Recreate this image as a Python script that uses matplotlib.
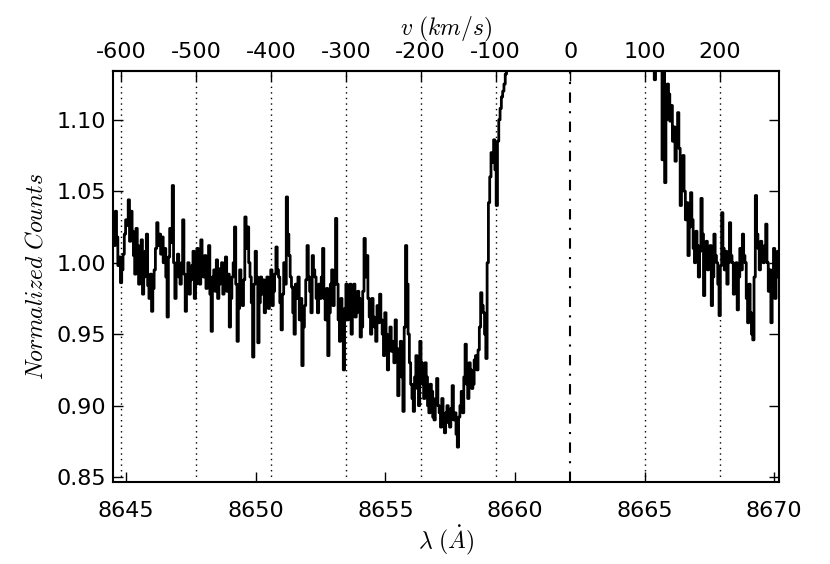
import numpy as np
import matplotlib
matplotlib.use("Agg")
import matplotlib.pyplot as plt

plt.rcParams['font.family'] = ['DejaVu Sans']
plt.rcParams['font.size'] = 16
plt.rcParams['mathtext.fontset'] = 'cm'
plt.rcParams['xtick.direction'] = 'in'
plt.rcParams['ytick.direction'] = 'in'
plt.rcParams['axes.linewidth'] = 1.5

# Ca II rest wavelength and speed of light
lam0 = 8662.14
c_kms = 299792.458

# spectrum: regular 0.05 A pixels starting at 8644.5 A
wave_start = 8644.5
wave_step = 0.05

flux_blue = [
    1.028, 1.012, 1.036, 1.018, 0.998, 1.004, 0.986, 0.995, 1.006, 1.020,
    1.030, 1.026, 1.044, 1.015, 1.036, 1.022, 1.005, 0.992, 1.024, 1.012,
    0.985, 1.000, 1.016, 0.978, 0.990, 1.008, 1.020, 0.984, 0.975, 0.992,
    0.966, 0.982, 0.995, 1.010, 1.028, 1.012, 1.020, 1.006, 1.018, 1.000,
    1.010, 0.990, 0.962, 1.004, 1.024, 1.014, 1.054, 1.000, 0.975, 0.994,
    1.006, 0.990, 0.985, 1.000, 1.030, 0.992, 0.966, 0.985, 1.000, 0.978,
    0.988, 0.998, 1.008, 0.975, 0.985, 1.010, 1.003, 0.985, 1.016, 1.000,
    0.990, 1.005, 0.982, 0.994, 1.012, 0.978, 0.952, 0.990, 0.995, 0.980,
    1.002, 0.975, 0.985, 0.996, 1.000, 0.978, 0.990, 1.004, 0.980, 0.992,
    0.955, 0.975, 0.990, 1.000, 1.025, 0.985, 0.945, 0.968, 0.995, 0.982,
    0.970, 0.988, 1.032, 1.010, 1.025, 1.000, 0.990, 0.972, 0.934, 0.985,
    1.008, 0.990, 0.944, 0.972, 0.990, 0.978, 0.988, 0.965, 0.975, 0.990,
    0.968, 0.982, 0.995, 0.970, 0.980, 0.992, 1.011, 0.995, 0.990, 0.972,
    0.953, 0.978, 1.000, 0.985, 1.046, 1.020, 1.005, 0.990, 0.983, 0.965,
    0.950, 0.985, 0.975, 0.990, 0.960, 0.975, 0.928, 0.955, 0.970, 0.988,
    1.012, 0.990, 0.980, 0.965, 1.005, 0.995, 0.990, 0.975, 0.965, 0.985,
    0.975, 0.990, 1.010, 0.975, 0.960, 0.982, 0.935, 0.965, 0.985, 0.995,
    0.970, 0.985, 1.031, 0.985, 0.960, 0.945, 0.975, 0.960, 0.925, 0.968,
    0.985, 0.960, 0.972, 0.985, 0.950, 0.970, 0.985, 0.962, 0.965, 0.980,
    0.975, 0.948, 0.955, 0.980, 1.017, 0.990, 1.005, 0.975, 0.962, 0.950,
    0.975, 0.962, 0.955, 0.945, 0.970, 0.958, 0.978, 0.960, 0.950, 0.935,
    0.965, 0.950, 0.925, 0.948, 0.955, 0.938, 0.945, 0.930, 0.960, 0.940,
    0.907, 0.935, 0.945, 0.920, 0.896, 0.955, 1.012, 0.985, 0.950, 0.930,
    0.915, 0.905, 0.896, 0.920, 0.935, 0.912, 0.900, 0.945, 0.930, 0.915,
    0.905, 0.930, 0.920, 0.900, 0.895, 0.915, 0.910, 0.892, 0.890, 0.905,
    0.919, 0.900, 0.895, 0.885, 0.905, 0.893, 0.881, 0.895, 0.900, 0.888,
    0.885, 0.898, 0.914, 0.890, 0.895, 0.880, 0.871, 0.892, 0.900, 0.910,
    0.895, 0.920, 0.943, 0.915, 0.905, 0.930, 0.925, 0.912, 0.915, 0.932,
    0.935, 0.925, 0.939, 0.955, 0.979, 0.970, 0.965, 0.950, 0.933, 1.000,
    1.042, 1.060, 1.077, 1.070, 1.086, 1.065, 1.040, 1.085, 1.100, 1.108,
    1.116, 1.120, 1.125, 1.132,
]
# line core, above the plotted range
flux_core = [
    1.14, 1.15, 1.17, 1.19, 1.21, 1.24, 1.26, 1.29, 1.32, 1.35,
    1.38, 1.41, 1.44, 1.47, 1.50, 1.53, 1.56, 1.59, 1.62, 1.64,
    1.67, 1.69, 1.71, 1.73, 1.75, 1.76, 1.77, 1.78, 1.79, 1.79,
    1.79, 1.78, 1.77, 1.75, 1.73, 1.70, 1.67, 1.63, 1.59, 1.55,
    1.51, 1.47, 1.44, 1.40, 1.37, 1.35, 1.33, 1.32, 1.31, 1.31,
    1.31, 1.32, 1.33, 1.35, 1.37, 1.40, 1.43, 1.46, 1.50, 1.53,
    1.57, 1.60, 1.63, 1.66, 1.69, 1.72, 1.75, 1.77, 1.79, 1.81,
    1.82, 1.83, 1.84, 1.84, 1.84, 1.83, 1.82, 1.80, 1.78, 1.76,
    1.74, 1.71, 1.68, 1.65, 1.62, 1.58, 1.55, 1.51, 1.48, 1.44,
    1.41, 1.38, 1.36, 1.33, 1.31, 1.29, 1.28, 1.26, 1.25, 1.23,
    1.22, 1.21, 1.20, 1.19, 1.18, 1.17, 1.165, 1.16, 1.155, 1.15,
    1.148, 1.145, 1.142, 1.14,
]
flux_red = [
    1.128, 1.145, 1.150, 1.165, 1.160, 1.140, 1.072, 1.150, 1.056, 1.100,
    1.125, 1.118, 1.099, 1.110, 1.085, 1.095, 1.071, 1.088, 1.105, 1.080,
    1.040, 1.062, 1.075, 1.050, 1.030, 1.042, 1.005, 1.025, 1.049, 1.030,
    1.010, 1.000, 1.022, 1.012, 0.990, 1.008, 1.045, 1.020, 0.977, 1.000,
    1.015, 0.995, 1.000, 1.012, 0.970, 0.990, 1.020, 1.005, 1.000, 0.985,
    0.963, 0.998, 1.035, 1.010, 0.995, 1.008, 0.985, 1.000, 1.028, 1.005,
    1.000, 0.978, 0.985, 1.000, 0.967, 0.990, 1.010, 0.995, 1.020, 1.005,
    1.000, 0.975, 0.958, 0.985, 0.965, 0.950, 0.946, 0.990, 1.047, 1.020,
    1.010, 0.995, 1.015, 1.002, 1.000, 1.012, 1.027, 1.000, 0.980, 0.995,
    0.958, 0.985, 1.010, 0.975, 0.990, 1.008, 1.005, 0.995,
]

vel_lines = [-600, -500, -400, -300, -200, -100, 100, 200]
vel_ticks = [-600, -500, -400, -300, -200, -100, 0, 100, 200]
wave_ticks = [8645, 8650, 8655, 8660, 8665, 8670]
flux_ticks = [0.85, 0.90, 0.95, 1.00, 1.05, 1.10]


def to_vel(lam):
    return (lam - lam0) / lam0 * c_kms


def to_wave(v):
    return lam0 * (1 + v / c_kms)


flux = np.array(flux_blue + flux_core + flux_red)
wave = wave_start + wave_step * np.arange(len(flux))

fig = plt.figure(figsize=(8.3, 5.64), dpi=100)
ax = fig.add_axes([0.1365, 0.1454, 0.8024, 0.7292])

ax.plot(wave, flux, color='k', lw=2.0, drawstyle='steps-mid')

for v in vel_lines:
    ax.axvline(to_wave(v), color='k', lw=1.0, linestyle=(0, (1, 3)))
ax.axvline(lam0, color='k', lw=1.5, linestyle=(0, (5, 4, 1, 4)))

ax.set_xlim(8644.5, 8670.2)
ax.set_ylim(0.8466, 1.1343)
ax.set_xticks(wave_ticks)
ax.set_yticks(flux_ticks)
ax.set_yticklabels(['%.2f' % t for t in flux_ticks])
ax.tick_params(axis='x', top=False, bottom=True, length=7, width=1, pad=14)
ax.tick_params(axis='y', left=True, right=True, length=7, width=1, pad=5)

secax = ax.secondary_xaxis('top', functions=(to_vel, to_wave))
secax.set_xticks(vel_ticks)
secax.set_xticklabels([str(v) for v in vel_ticks])
secax.tick_params(axis='x', direction='in', length=7, width=1, pad=6)
secax.set_xlabel(r'$v\ (km/s)$', fontsize=17, labelpad=5)

ax.set_xlabel(r'$\lambda\ (\dot{A})$', fontsize=17, labelpad=1)
ax.set_ylabel(r'$Normalized\ Counts$', fontsize=17, labelpad=7)

fig.savefig('out.png', dpi=100)
